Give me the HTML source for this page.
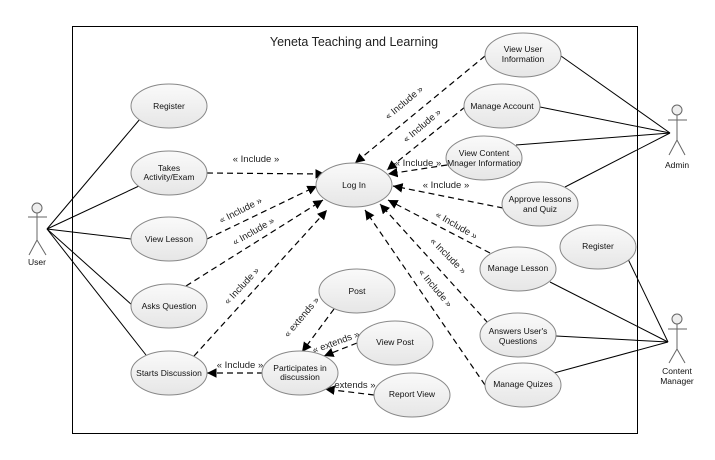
<!DOCTYPE html>
<html><head><meta charset="utf-8"><style>
body{margin:0;background:#fff;}
svg{display:block;font-family:"Liberation Sans",Arial,sans-serif;}
.e{fill:url(#g);stroke:#888;stroke-width:1;}
.t{font-size:8.5px;fill:#111;text-anchor:middle;}
.l{font-size:9.5px;fill:#222;text-anchor:middle;}
.s{stroke:#000;stroke-width:1;fill:none;}
.d{stroke:#000;stroke-width:1.2;fill:none;stroke-dasharray:6,4;}
</style></head><body>
<svg width="715" height="460" viewBox="0 0 715 460">
<defs>
<linearGradient id="g" x1="0" y1="0" x2="0" y2="1"><stop offset="0" stop-color="#fafafa"/><stop offset="1" stop-color="#e6e6e6"/></linearGradient>
<marker id="a" viewBox="0 0 10 10" refX="10" refY="5" markerWidth="8" markerHeight="8" orient="auto"><path d="M0,0 L10,5 L0,10 z" fill="#000"/></marker>
</defs>
<rect x="72.5" y="26.5" width="565" height="407" fill="#fff" stroke="#000" stroke-width="1"/>
<text x="354" y="46" font-size="12.5" text-anchor="middle" fill="#222">Yeneta Teaching and Learning</text>

<g class="s">
<line x1="47" y1="229" x2="140" y2="119"/>
<line x1="47" y1="229" x2="139" y2="186"/>
<line x1="47" y1="229" x2="131" y2="239"/>
<line x1="47" y1="229" x2="132" y2="305"/>
<line x1="47" y1="229" x2="146" y2="355"/>
<line x1="670" y1="133" x2="561" y2="56"/>
<line x1="670" y1="133" x2="540" y2="107"/>
<line x1="670" y1="133" x2="516" y2="145"/>
<line x1="670" y1="133" x2="565" y2="187"/>
<line x1="668" y1="342" x2="628" y2="259"/>
<line x1="668" y1="342" x2="550" y2="282"/>
<line x1="668" y1="342" x2="556" y2="336"/>
<line x1="668" y1="342" x2="554" y2="373"/>
</g>

<g class="d" marker-end="url(#a)">
<line x1="207" y1="173" x2="325" y2="174"/>
<line x1="207" y1="239" x2="317" y2="186"/>
<line x1="186" y1="286" x2="323" y2="200"/>
<line x1="194" y1="356" x2="327" y2="210"/>
<line x1="485" y1="56" x2="355" y2="163"/>
<line x1="465" y1="107" x2="387" y2="170"/>
<line x1="447" y1="165" x2="388" y2="174"/>
<line x1="503" y1="208" x2="393" y2="186"/>
<line x1="490" y1="253" x2="388" y2="200"/>
<line x1="488" y1="323" x2="380" y2="204"/>
<line x1="485" y1="385" x2="365" y2="210"/>
<line x1="334" y1="309" x2="302" y2="352"/>
<line x1="357" y1="343" x2="324" y2="356"/>
<line x1="374" y1="395" x2="325" y2="389"/>
<line x1="263" y1="373" x2="207" y2="373"/>
</g>

<g class="l">
<text x="256" y="162">« Include »</text>
<text transform="translate(242,213) rotate(-27)">« Include »</text>
<text transform="translate(255,234) rotate(-30)">« Include »</text>
<text transform="translate(244,288) rotate(-47)">« Include »</text>
<text transform="translate(406,105) rotate(-40)">« Include »</text>
<text transform="translate(424,128) rotate(-40)">« Include »</text>
<text x="418" y="166">« Include »</text>
<text x="446" y="188">« Include »</text>
<text transform="translate(455,228) rotate(30)">« Include »</text>
<text transform="translate(446,258) rotate(45)">« Include »</text>
<text transform="translate(433,290) rotate(50)">« Include »</text>
<text x="240" y="368">« Include »</text>
<text transform="translate(304,319) rotate(-50)">« extends »</text>
<text transform="translate(337,345) rotate(-20)">« extends »</text>
<text x="351" y="388">« extends »</text>
</g>

<g>
<ellipse class="e" cx="169" cy="106" rx="38" ry="22"/><text class="t" x="169" y="109">Register</text>
<ellipse class="e" cx="169" cy="173" rx="38" ry="22"/><text class="t" x="169" y="171">Takes</text><text class="t" x="169" y="180">Activity/Exam</text>
<ellipse class="e" cx="169" cy="239" rx="38" ry="22"/><text class="t" x="169" y="242">View Lesson</text>
<ellipse class="e" cx="169" cy="306" rx="38" ry="22"/><text class="t" x="169" y="309">Asks Question</text>
<ellipse class="e" cx="169" cy="373" rx="38" ry="22"/><text class="t" x="169" y="376">Starts Discussion</text>
<ellipse class="e" cx="354" cy="185" rx="38" ry="22"/><text class="t" x="354" y="188">Log In</text>
<ellipse class="e" cx="523" cy="55" rx="38" ry="22"/><text class="t" x="523" y="52">View User</text><text class="t" x="523" y="62">Information</text>
<ellipse class="e" cx="502" cy="106" rx="38" ry="22"/><text class="t" x="502" y="109">Manage Account</text>
<ellipse class="e" cx="484" cy="158" rx="38" ry="22"/><text class="t" x="484" y="156">View Content</text><text class="t" x="484" y="166">Mnager Information</text>
<ellipse class="e" cx="540" cy="204" rx="38" ry="22"/><text class="t" x="540" y="202">Approve lessons</text><text class="t" x="540" y="212">and Quiz</text>
<ellipse class="e" cx="598" cy="247" rx="38" ry="22"/><text class="t" x="598" y="249">Register</text>
<ellipse class="e" cx="518" cy="269" rx="38" ry="22"/><text class="t" x="518" y="271">Manage Lesson</text>
<ellipse class="e" cx="518" cy="335" rx="38" ry="22"/><text class="t" x="518" y="334">Answers User's</text><text class="t" x="518" y="344">Questions</text>
<ellipse class="e" cx="523" cy="385" rx="38" ry="22"/><text class="t" x="523" y="387">Manage Quizes</text>
<ellipse class="e" cx="357" cy="291" rx="38" ry="22"/><text class="t" x="357" y="294">Post</text>
<ellipse class="e" cx="395" cy="343" rx="38" ry="22"/><text class="t" x="395" y="345">View Post</text>
<ellipse class="e" cx="412" cy="395" rx="38" ry="22"/><text class="t" x="412" y="397">Report View</text>
<ellipse class="e" cx="300" cy="373" rx="38" ry="22"/><text class="t" x="300" y="371">Participates in</text><text class="t" x="300" y="380">discussion</text>
</g>

<g stroke="#666" fill="none" stroke-width="1">
<circle cx="37" cy="208" r="5" fill="#eee"/><line x1="37" y1="213" x2="37" y2="240"/><line x1="28" y1="217" x2="47" y2="217"/><line x1="37" y1="240" x2="29" y2="255"/><line x1="37" y1="240" x2="46" y2="255"/>
<circle cx="677" cy="110" r="5" fill="#eee"/><line x1="677" y1="115" x2="677" y2="140"/><line x1="668" y1="120" x2="687" y2="120"/><line x1="677" y1="140" x2="669" y2="155"/><line x1="677" y1="140" x2="685" y2="155"/>
<circle cx="677" cy="319" r="5" fill="#eee"/><line x1="677" y1="324" x2="677" y2="349"/><line x1="668" y1="329" x2="687" y2="329"/><line x1="677" y1="349" x2="669" y2="363"/><line x1="677" y1="349" x2="685" y2="363"/>
</g>
<text class="t" x="37" y="265">User</text>
<text class="t" x="677" y="168">Admin</text>
<text class="t" x="677" y="374">Content</text>
<text class="t" x="677" y="384">Manager</text>
</svg>
</body></html>
